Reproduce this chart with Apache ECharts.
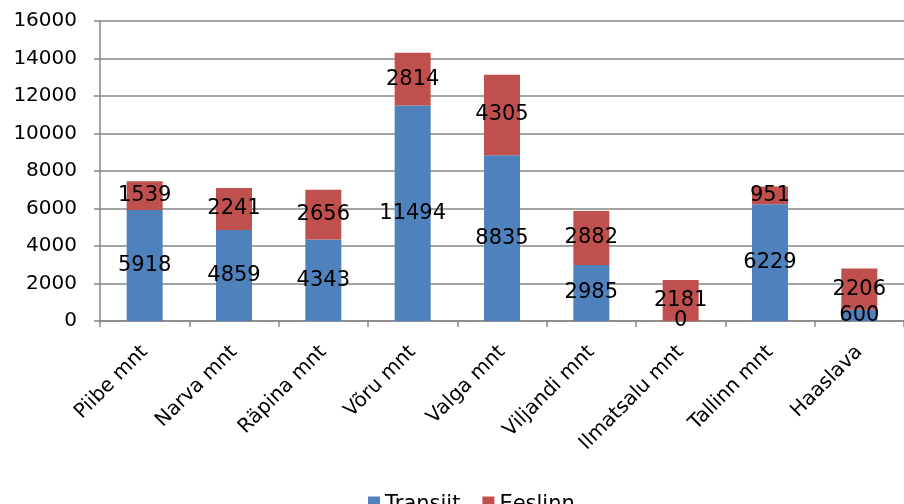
<!DOCTYPE html>
<html>
<head>
<meta charset="utf-8">
<script src="https://cdn.jsdelivr.net/npm/echarts@6/dist/echarts.min.js"></script>
<style>html,body{margin:0;padding:0;background:#fff}#c{width:904px;height:504px}</style>
</head>
<body>
<div id="c"></div>
<script>
var categories = ["Piibe mnt", "Narva mnt", "Räpina mnt", "Võru mnt", "Valga mnt", "Viljandi mnt", "Ilmatsalu mnt", "Tallinn mnt", "Haaslava"];
var transiit = [5918, 4859, 4343, 11494, 8835, 2985, 0, 6229, 600];
var eeslinn = [1539, 2241, 2656, 2814, 4305, 2882, 2181, 951, 2206];
var seriesNames = ["Transiit", "Eeslinn"];

var chart = echarts.init(document.getElementById('c'));
var labelStyle = {show: true, position: 'inside', color: '#000', fontFamily: 'DejaVu Sans', fontSize: 21};
chart.setOption({
  animation: false,
  grid: {left: 100, right: -8, top: 21, bottom: 183, containLabel: false},
  legend: {
    top: 489, left: 363, itemWidth: 12, itemHeight: 16, itemGap: 22,
    icon: 'rect',
    textStyle: {fontFamily: 'DejaVu Sans', fontSize: 21, color: '#000'},
    data: seriesNames
  },
  xAxis: {
    type: 'category', data: categories,
    axisLine: {lineStyle: {color: '#868686', width: 1.5}},
    axisTick: {show: true, length: 6, lineStyle: {color: '#868686', width: 1.5}},
    axisLabel: {rotate: 45, margin: 28, interval: 0, fontFamily: 'DejaVu Sans', fontSize: 20, color: '#000'}
  },
  yAxis: {
    type: 'value', min: 0, max: 16000, interval: 2000,
    axisLine: {show: true, lineStyle: {color: '#868686', width: 1.5}},
    axisTick: {show: true, length: 6, lineStyle: {color: '#868686', width: 1.5}},
    splitLine: {lineStyle: {color: '#868686', width: 1.5}},
    axisLabel: {margin: 23, fontFamily: 'DejaVu Sans', fontSize: 20, color: '#000', formatter: function (v) { return String(v); }}
  },
  series: [
    {name: seriesNames[0], type: 'bar', stack: 's', data: transiit, barWidth: 36, itemStyle: {color: '#4F81BD'}, label: labelStyle},
    {name: seriesNames[1], type: 'bar', stack: 's', data: eeslinn, barWidth: 36, itemStyle: {color: '#C0504D'}, label: labelStyle}
  ]
});
</script>
</body>
</html>
